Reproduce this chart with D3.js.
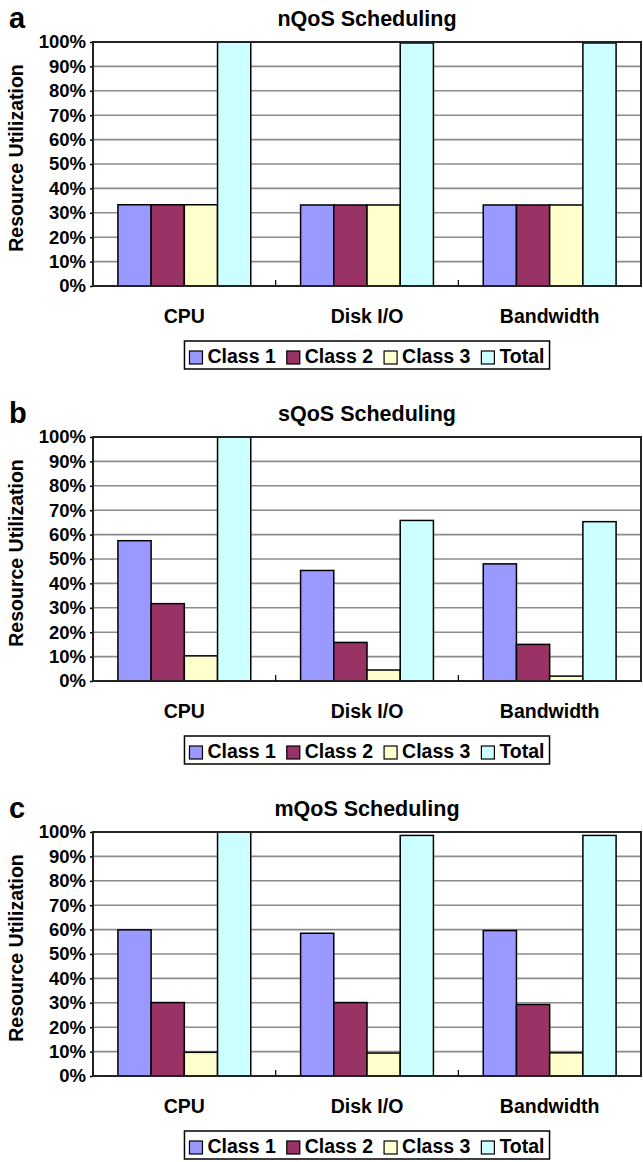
<!DOCTYPE html>
<html lang="en">
<head>
<meta charset="UTF-8">
<title>QoS Scheduling Resource Utilization</title>
<script src="https://cdn.jsdelivr.net/npm/d3@7"></script>
<style>
  body { margin: 0; background: #fff; }
  svg { display: block; font-family: "Liberation Sans", Arial, sans-serif; font-weight: bold; }
</style>
</head>
<body>
<div id="chart"></div>
<script>
// categories and series
const categories = ["CPU", "Disk I/O", "Bandwidth"];
const seriesNames = ["Class 1", "Class 2", "Class 3", "Total"];
const seriesColors = ["#9999ff", "#993366", "#ffffcc", "#ccffff"];
const tickValues = [0, 10, 20, 30, 40, 50, 60, 70, 80, 90, 100];

// values per category: [Class 1, Class 2, Class 3, Total] in %
const nqosValues = [
  [33.3, 33.3, 33.3, 100],
  [33.2, 33.2, 33.2, 99.6],
  [33.2, 33.2, 33.2, 99.6]
];
const sqosValues = [
  [57.5, 31.7, 10.3, 100],
  [45.3, 15.8, 4.5, 65.8],
  [48.0, 15.0, 2.0, 65.3]
];
const mqosValues = [
  [59.9, 30.1, 9.7, 100],
  [58.5, 30.1, 9.4, 98.6],
  [59.6, 29.3, 9.5, 98.6]
];

const panels = [
  { letter: "a", title: "nQoS Scheduling", values: nqosValues },
  { letter: "b", title: "sQoS Scheduling", values: sqosValues },
  { letter: "c", title: "mQoS Scheduling", values: mqosValues }
];

const width = 643, height = 1162;
const panelStep = 395;
const plotLeft = 93, plotRight = 641, plotTop = 42, plotBottom = 286;

const svg = d3.select("#chart").append("svg")
  .attr("width", width)
  .attr("height", height);

const x0 = d3.scaleBand().domain(categories).range([plotLeft, plotRight]);
const x1 = d3.scaleBand().domain(seriesNames).range([0, x0.bandwidth()]).paddingOuter(0.75);
const y = d3.scaleLinear().domain([0, 100]).range([plotBottom, plotTop]);
const color = d3.scaleOrdinal().domain(seriesNames).range(seriesColors);

panels.forEach((p, i) => {
  const g = svg.append("g").attr("transform", `translate(0,${i * panelStep})`);

  // panel letter
  g.append("text")
    .attr("x", 9).attr("y", 28)
    .attr("font-size", 29)
    .text(p.letter);

  // title
  g.append("text")
    .attr("x", (plotLeft + plotRight) / 2).attr("y", 26)
    .attr("text-anchor", "middle")
    .attr("font-size", 21.5)
    .text(p.title);

  // gridlines
  g.append("g")
    .selectAll("line")
    .data(tickValues.slice(1, -1))
    .enter().append("line")
    .attr("x1", plotLeft).attr("x2", plotRight)
    .attr("y1", d => y(d)).attr("y2", d => y(d))
    .attr("stroke", "#8c8c8c")
    .attr("stroke-width", 1.6);

  // y axis
  const yAxis = g.append("g")
    .attr("transform", `translate(${plotLeft},0)`)
    .call(d3.axisLeft(y).tickValues(tickValues).tickFormat(d => d + "%").tickSize(3).tickPadding(4));
  yAxis.select(".domain").remove();
  yAxis.selectAll("line").attr("stroke", "#000").attr("stroke-width", 1.5);
  yAxis.selectAll("text")
    .attr("font-size", 18.5)
    .attr("font-family", "Liberation Sans, Arial, sans-serif")
    .attr("font-weight", "bold")
    .attr("fill", "#000");

  // bars
  g.append("g")
    .selectAll("g")
    .data(p.values)
    .enter().append("g")
    .attr("transform", (d, ci) => `translate(${x0(categories[ci])},0)`)
    .selectAll("rect")
    .data(d => d.map((v, si) => ({ name: seriesNames[si], value: v })))
    .enter().append("rect")
    .attr("x", d => x1(d.name))
    .attr("y", d => y(d.value))
    .attr("width", x1.bandwidth())
    .attr("height", d => y(0) - y(d.value))
    .attr("fill", d => color(d.name))
    .attr("stroke", "#000")
    .attr("stroke-width", 1.5);

  // frame
  g.append("rect")
    .attr("x", plotLeft).attr("y", plotTop)
    .attr("width", plotRight - plotLeft).attr("height", plotBottom - plotTop)
    .attr("fill", "none")
    .attr("stroke", "#222")
    .attr("stroke-width", 2);

  // category separator ticks
  g.append("g")
    .selectAll("line")
    .data(categories.slice(1))
    .enter().append("line")
    .attr("x1", d => x0(d)).attr("x2", d => x0(d))
    .attr("y1", plotBottom).attr("y2", plotBottom - 6)
    .attr("stroke", "#000")
    .attr("stroke-width", 1.2);

  // category labels
  g.append("g")
    .selectAll("text")
    .data(categories)
    .enter().append("text")
    .attr("x", d => x0(d) + x0.bandwidth() / 2)
    .attr("y", 323)
    .attr("text-anchor", "middle")
    .attr("font-size", 19.5)
    .text(d => d);

  // y axis title
  g.append("text")
    .attr("transform", `translate(23,${(plotTop + plotBottom) / 2 - 6}) rotate(-90)`)
    .attr("text-anchor", "middle")
    .attr("font-size", 19.5)
    .text("Resource Utilization");

  // legend
  const legend = g.append("g");
  const items = legend.selectAll("g")
    .data(seriesNames)
    .enter().append("g");
  items.append("rect")
    .attr("width", 13).attr("height", 13)
    .attr("y", 351)
    .attr("fill", d => color(d))
    .attr("stroke", "#000")
    .attr("stroke-width", 1.2);
  items.append("text")
    .attr("x", 18).attr("y", 363)
    .attr("font-size", 19.5)
    .text(d => d);

  let cx = 0;
  items.each(function () {
    const item = d3.select(this);
    item.attr("transform", `translate(${cx},0)`);
    cx += 18 + item.select("text").node().getComputedTextLength() + 11;
  });
  const legendWidth = cx - 11;
  const boxW = legendWidth + 10;
  const boxX = (plotLeft + plotRight) / 2 - boxW / 2;
  legend.attr("transform", `translate(${boxX + 5},0)`);
  legend.insert("rect", ":first-child")
    .attr("x", -5).attr("y", 341)
    .attr("width", boxW).attr("height", 28)
    .attr("fill", "#fff")
    .attr("stroke", "#000")
    .attr("stroke-width", 1.5);
});
</script>
</body>
</html>
